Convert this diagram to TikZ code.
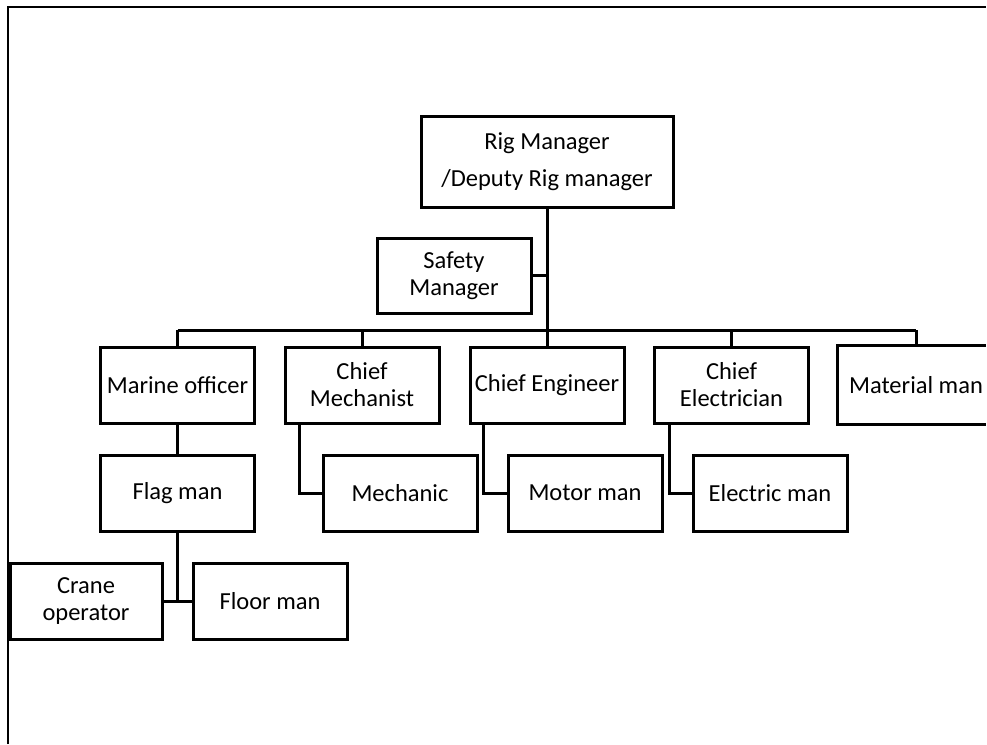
\documentclass[tikz,border=0pt]{standalone}
\usepackage{fontspec}
\setmainfont{Carlito}
\begin{document}
\begin{tikzpicture}[x=1pt,y=1pt,
  box/.style={draw=black, line width=3pt, minimum width=154pt, minimum height=76pt,
    inner sep=0pt, align=center, font=\fontsize{24.5}{27}\selectfont},
  openbox/.style={box, draw=none},
  link/.style={draw=black, line width=3pt},
  frame/.style={draw=black, line width=2.4pt}]
\useasboundingbox (0,0) rectangle (987,-744);
\fill[white] (0,0) rectangle (987,-744);
\coordinate (edge) at (986,0);
\draw[frame] (8,-744) -- (8,-7) -- (edge |- 0,-7);

\node[box, minimum width=252pt, minimum height=91pt, font=\fontsize{24.5}{37}\selectfont] (rig) at (547,-161.5) {Rig Manager\\/Deputy Rig manager};
\node[box, minimum height=75pt] (safety) at (454,-275.5) {Safety\\Manager};

\node[box] (marine) at (177.5,-385) {Marine officer};
\node[box] (cmech) at (362,-385) {Chief\\Mechanist};
\node[box] (ceng) at (547,-385) {Chief Engineer};
\node[box] (celec) at (731.5,-385) {Chief\\Electrician};
\node[openbox] (material) at (916,-385) {Material man};
\draw[link, line join=miter] (material.north east -| edge) -- (material.north west) -- (material.south west) -- (material.south east -| edge);

\node[box] (flag) at (177.5,-493) {Flag man};
\node[box] (mechanic) at (400,-493) {Mechanic};
\node[box] (motor) at (585,-493) {Motor man};
\node[box] (electric) at (770,-493) {Electric man};

\node[box, minimum width=152pt] (crane) at (86,-601) {Crane\\operator};
\node[box] (floor) at (270,-601) {Floor man};

\coordinate (bus) at (547,-330);
\draw[link] (rig.south) -- (bus);
\draw[link] (safety.east) -- (safety.east -| bus);
\draw[link] (marine.north |- bus) -- (material.north |- bus);
\foreach \n in {marine,cmech,ceng,celec,material}
  \draw[link] (\n.north) -- (\n.north |- bus);

\draw[link] (marine.south) -- (flag.north);
\draw[link] ([xshift=16pt]cmech.south west) |- (mechanic.west);
\draw[link] ([xshift=15pt]ceng.south west) |- (motor.west);
\draw[link] ([xshift=16pt]celec.south west) |- (electric.west);

\draw[link] (flag.south) -- (flag.south |- crane.east);
\draw[link] (crane.east) -- (floor.west);
\end{tikzpicture}
\end{document}
